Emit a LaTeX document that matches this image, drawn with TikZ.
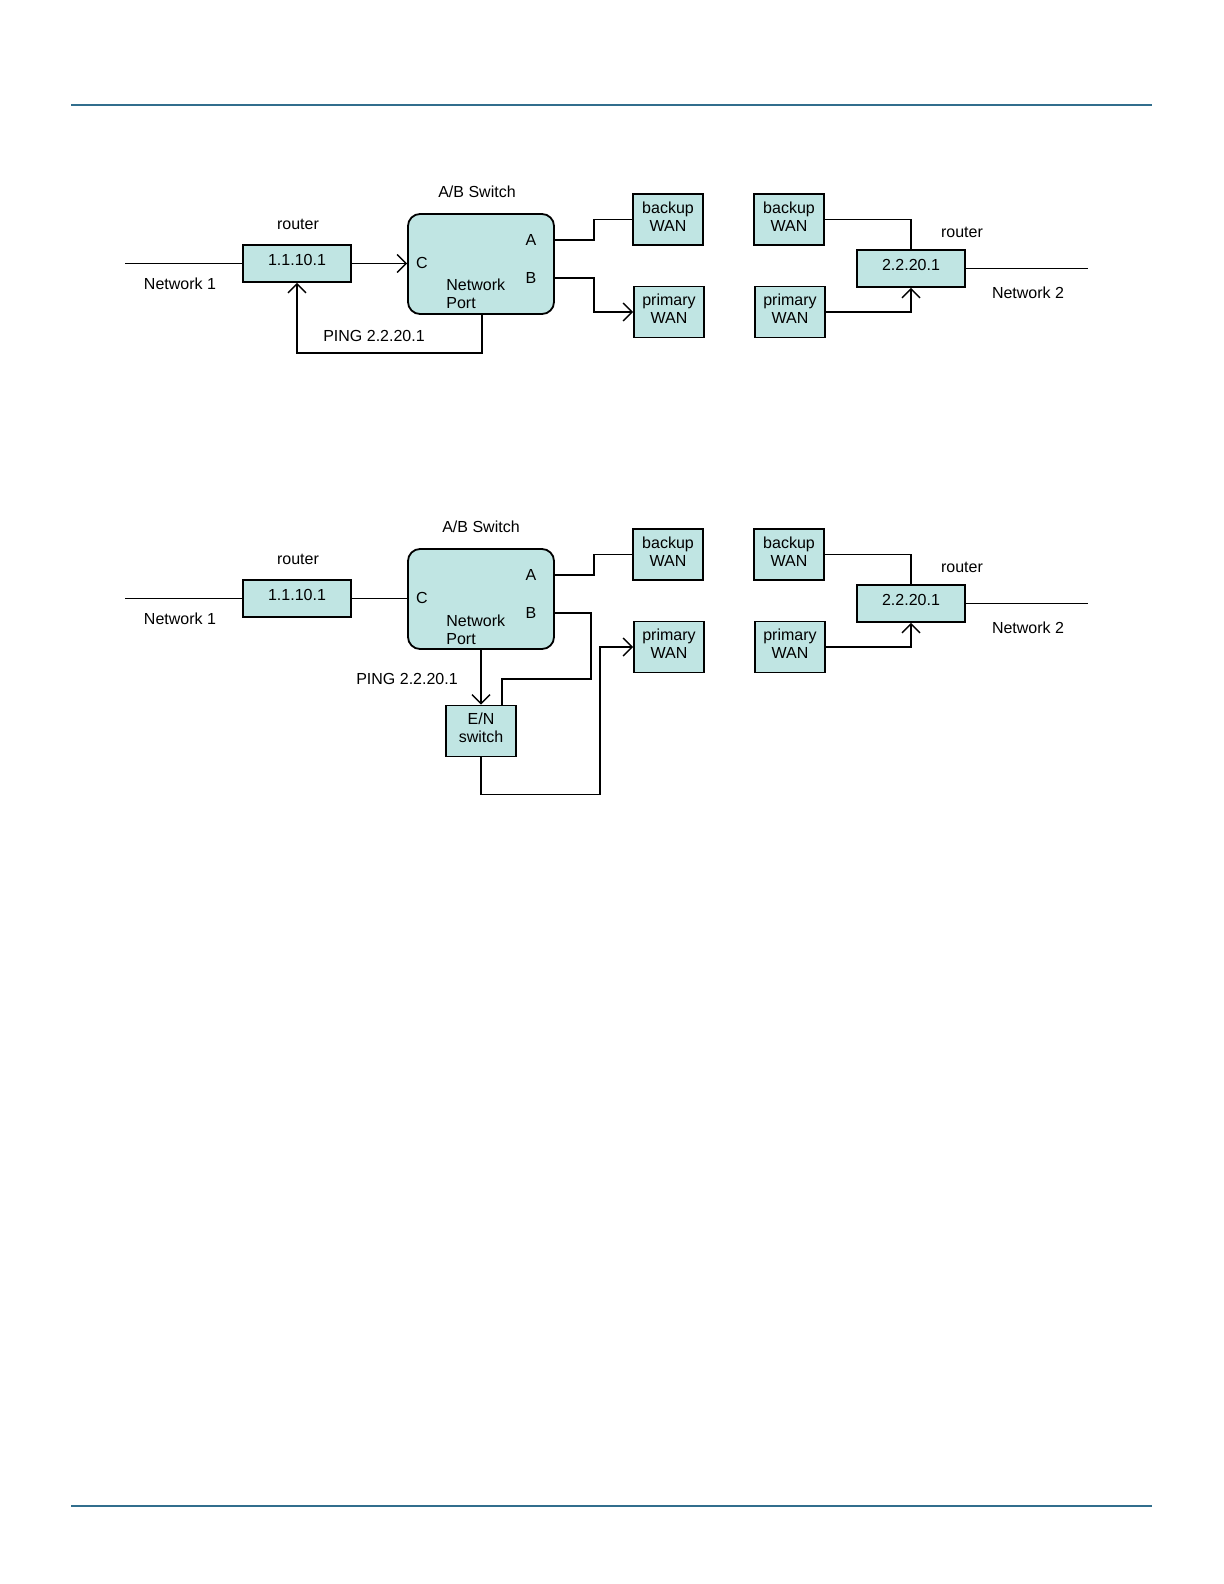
\documentclass[tikz,border=0pt]{standalone}
\usepackage{fontspec}
\setmainfont{Liberation Sans}
\usetikzlibrary{arrows.meta}
\definecolor{boxfill}{RGB}{192,229,227}
\definecolor{rulecol}{RGB}{49,110,141}

\begin{document}
\begin{tikzpicture}[x=0.5pt,y=-0.5pt,
    font=\fontsize{8}{9}\selectfont,
    box/.style={draw,fill=boxfill,line width=0.9pt,inner sep=0pt,align=center},
    wan/.style={box,minimum width=35pt,minimum height=25.5pt,text depth=3pt},
    router/.style={box,minimum width=54pt,minimum height=18.5pt,text depth=4pt},
    wire/.style={line width=0.7pt},
    tip/.style={wire,-{Straight Barb[length=4.5pt,width=9pt]}}]
  \useasboundingbox (0,0) rectangle (1224,1584);
  % --- page rules ---
  \draw[rulecol,line width=0.8pt] (71,105) -- (1152,105);
  \draw[rulecol,line width=0.8pt] (71,1506) -- (1152,1506);
  % --- Helper: \linkside{yshift}{prefix}{A/B label x} ---
  % Both routers, the A/B switch and the four WAN boxes, shifted down by
  % {yshift}; node names start with {prefix}.
  \newcommand{\linkside}[3]{%
    \begin{scope}[shift={(0,#1)}]
      % network 1 side
      \coordinate (#2neta) at (125,263.5);
      \node[router] (#2ra) at (297,263.5) {1.1.10.1};
      \node (#2rla) at (298,224) {router};
      \node (#2nla) at (180,284) {Network 1};
      \draw[wire] (#2neta) -- (#2ra.west);
      % A/B switch
      \node[box,rounded corners=6pt,minimum width=73pt,minimum height=50pt]
        (#2sw) at (481,264) {};
      \node (#2swl) at (#3,192) {A/B Switch};
      \node (#2la) at (531,240) {A};
      \node (#2lb) at (531,278) {B};
      \node (#2lc) at (422,263) {C};
      \node[anchor=north west,inner sep=0pt,align=left] (#2np) at (446,279)
        {Network\\Port};
      \coordinate (#2pa) at (554,240);
      \coordinate (#2pb) at (554,278);
      % WAN links
      \node[wan] (#2bka) at (668,219.5) {backup\\WAN};
      \node[wan] (#2pra) at (669,312) {primary\\WAN};
      \node[wan] (#2bkb) at (789,219.5) {backup\\WAN};
      \node[wan] (#2prb) at (790,312) {primary\\WAN};
      \draw[wire] (#2pa) -- ++(40,0) |- (#2bka.west);
      % network 2 side
      \node[router] (#2rb) at (911,268.5) {2.2.20.1};
      \node (#2rlb) at (962,232) {router};
      \node (#2nlb) at (1028,293) {Network 2};
      \coordinate (#2netb) at (1088,268.5);
      \draw[wire] (#2rb.east) -- (#2netb);
      \draw[wire] (#2bkb.east) -| (#2rb.north);
      \draw[tip] (#2prb.east) -| (#2rb.south);
    \end{scope}}
  % Ping sent back to the router.
  \linkside{0}{t}{477}
  \draw[tip] (tra.east) -- (tra.east -| tsw.west);
  \draw[tip] (tpb) -- ++(40,0) |- (tpra.west);
  \draw[tip] ([xshift=0.5pt]tsw.south) -- ++(0,38) -| (tra.south);
  \node (tping) at (374,336) {PING 2.2.20.1};
  % Ping sent to the E/N switch.
  \linkside{335}{b}{481}
  \node[wan] (ben) at (481,731) {E/N\\switch};
  \node (bping) at (407,679) {PING 2.2.20.1};
  \draw[wire] (bra.east) -- (bra.east -| bsw.west);
  \draw[wire] (bpb) -- ++(37,0) -- ++(0,66) -| ([xshift=10.5pt]ben.north);
  \draw[tip] (bsw.south) -- (ben.north);
  \draw[tip] (ben.south) -- ++(0,37) -- ++(119,0) |- (bpra.west);
\end{tikzpicture}
\end{document}
